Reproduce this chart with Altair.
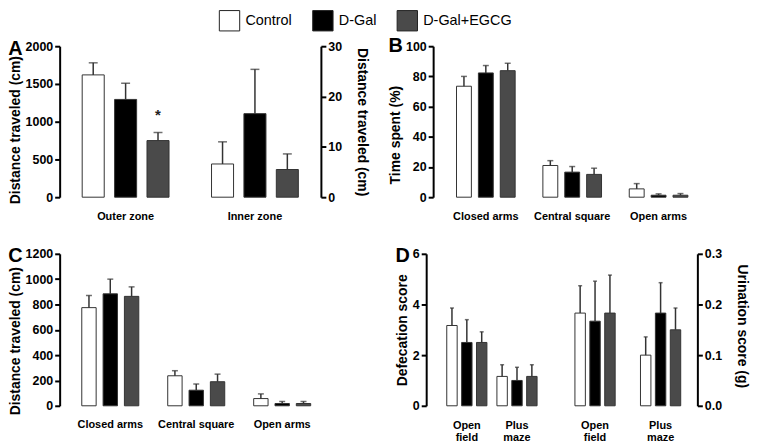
import altair as alt
import pandas as pd

FONT = "Liberation Sans"
groups = ["Control", "D-Gal", "D-Gal+EGCG"]
fills = ["#ffffff", "#000000", "#4a4a4a"]

# Panel A (open field: outer zone on left axis, inner zone on right axis)
a_outer_cat = ["Outer zone"]
a_outer_mean = [[1620, 1295, 750]]
a_outer_top = [[1780, 1510, 857]]
a_inner_cat = ["Inner zone"]
a_inner_mean = [[6.6, 16.6, 5.5]]
a_inner_top = [[11.0, 25.4, 8.6]]
a_star_cat = ["Outer zone"]
a_star_group = ["D-Gal+EGCG"]
a_star_value = [1085]

# Panel B (time spent, %)
b_cats = ["Closed arms", "Central square", "Open arms"]
b_mean = [[73.5, 82.3, 83.8], [21.0, 16.6, 15.1], [5.5, 1.3, 1.3]]
b_top = [[80.0, 87.2, 88.7], [24.2, 20.3, 19.2], [9.0, 2.2, 2.4]]

# Panel C (distance traveled, cm)
c_cats = ["Closed arms", "Central square", "Open arms"]
c_mean = [[775, 884, 864], [237, 123, 190], [57, 18, 18]]
c_top = [[871, 1000, 939], [277, 172, 250], [94, 34, 34]]

# Panel D (defecation on left axis, urination on right axis)
d_def_cats = ["Open field (defecation)", "Plus maze (defecation)"]
d_def_mean = [[3.17, 2.5, 2.5], [1.16, 1.0, 1.16]]
d_def_top = [[3.86, 3.40, 2.92], [1.62, 1.52, 1.62]]
d_uri_cats = ["Open field (urination)", "Plus maze (urination)"]
d_uri_mean = [[0.183, 0.167, 0.183], [0.100, 0.183, 0.150]]
d_uri_top = [[0.237, 0.246, 0.258], [0.136, 0.243, 0.193]]
d_spacers_right = ["_r1", "_r2", "_r3"]
d_spacers_left = ["_l1", "_l2"]


def to_df(cats, means, tops):
    rows = []
    for c, ms, ts in zip(cats, means, tops):
        for g, m, t in zip(groups, ms, ts):
            rows.append({"cat": c, "group": g, "mean": m, "top": t})
    return pd.DataFrame(rows)


legend = alt.Legend(
    title=None, orient="none", legendX=160, legendY=-37, direction="horizontal",
    symbolType="square", symbolSize=420, symbolStrokeColor="#222",
    symbolStrokeWidth=1, labelFontSize=14.5, labelFont=FONT,
    labelFontWeight="normal", labelColor="black", columnPadding=18,
    labelOffset=5,
)
color_scale = alt.Scale(domain=groups, range=fills)


def bar_layer(df, xs, offs, ys, yaxis, xaxis, cap, extra=None):
    base = alt.Chart(df).encode(
        x=alt.X("cat:N", scale=xs, axis=xaxis, title=None),
        xOffset=alt.XOffset("group:N", scale=offs, sort=groups),
    )
    bars = base.mark_bar(stroke="#333", strokeWidth=1).encode(
        y=alt.Y("mean:Q", scale=ys, axis=yaxis),
        fill=alt.Fill("group:N", scale=color_scale, legend=legend, sort=groups),
    )
    rules = base.mark_rule(color="#333", strokeWidth=1.5).encode(
        y=alt.Y("mean:Q", scale=ys, axis=yaxis), y2="top:Q"
    )
    caps = base.mark_tick(color="#333", thickness=1.5, size=cap).encode(
        y=alt.Y("top:Q", scale=ys, axis=yaxis)
    )
    layers = [bars, rules, caps]
    if extra is not None:
        layers.append(extra(xs, offs, ys, yaxis, xaxis))
    return alt.layer(*layers)


def panel_title(letter, offset):
    return alt.TitleParams(text=letter, anchor="start", frame="bounds", fontSize=20,
                           fontWeight="bold", font=FONT, color="black", offset=offset)


H1 = 152
H2 = 153

# ---------- Panel A ----------
xa = alt.Scale(domain=["Outer zone", "Inner zone"], paddingInner=0.26, paddingOuter=0.14)
offa = alt.Scale(paddingInner=0.32, paddingOuter=0.137)
xaxis_a = alt.Axis(title=None)
ya_left = alt.Scale(domain=[0, 2000], nice=False)
ya_right = alt.Scale(domain=[0, 30], nice=False)
yaxis_a_left = alt.Axis(title="Distance traveled (cm)", values=[0, 500, 1000, 1500, 2000],
                        format="d", orient="left", titleY=H1 / 2 + 8)
yaxis_a_right = alt.Axis(title="Distance traveled (cm)", values=[0, 10, 20, 30], format="d",
                         orient="right", titlePadding=13)

star_df = pd.DataFrame({"cat": a_star_cat, "group": a_star_group, "v": a_star_value})


def star_layer(xs, offs, ys, yaxis, xaxis):
    return alt.Chart(star_df).mark_text(text="*", fontSize=15, fontWeight="bold",
                                        font=FONT, baseline="middle", color="#222").encode(
        x=alt.X("cat:N", scale=xs, axis=xaxis, title=None),
        xOffset=alt.XOffset("group:N", scale=offs, sort=groups),
        y=alt.Y("v:Q", scale=ys, axis=yaxis),
    )


A = alt.layer(
    bar_layer(to_df(a_outer_cat, a_outer_mean, a_outer_top), xa, offa, ya_left, yaxis_a_left, xaxis_a, 9, star_layer),
    bar_layer(to_df(a_inner_cat, a_inner_mean, a_inner_top), xa, offa, ya_right, yaxis_a_right, xaxis_a, 9),
).resolve_scale(y="independent").properties(width=263, height=H1, title=panel_title("A", -19))

# ---------- Panel B ----------
xb = alt.Scale(domain=b_cats, paddingInner=0.24, paddingOuter=0.23)
offb = alt.Scale(paddingInner=0.32, paddingOuter=0.16)
B = bar_layer(
    to_df(b_cats, b_mean, b_top), xb, offb,
    alt.Scale(domain=[0, 100], nice=False),
    alt.Axis(title="Time spent (%)", values=[0, 20, 40, 60, 80, 100], titleY=H1 / 2 + 13),
    alt.Axis(title=None), 6,
).properties(width=280, height=H1, title=panel_title("B", -16))

# ---------- Panel C ----------
xc = alt.Scale(domain=c_cats, paddingInner=0.25, paddingOuter=0.214)
offc = alt.Scale(paddingInner=0.326, paddingOuter=0.175)
C = bar_layer(
    to_df(c_cats, c_mean, c_top), xc, offc,
    alt.Scale(domain=[0, 1200], nice=False),
    alt.Axis(title="Distance traveled (cm)", values=[0, 200, 400, 600, 800, 1000, 1200],
             format="d", titleY=H2 / 2 + 11),
    alt.Axis(title=None), 6,
).properties(width=275, height=H2, title=panel_title("C", -18))

# ---------- Panel D ----------
label_expr = ("indexof(datum.value, 'Open') == 0 ? ['Open', 'field'] : "
              "indexof(datum.value, 'Plus') == 0 ? ['Plus', 'maze'] : ''")
xd_def = alt.Scale(domain=d_def_cats + d_spacers_right, paddingInner=0.13, paddingOuter=0.268, align=0.70)
xd_uri = alt.Scale(domain=d_spacers_left + d_uri_cats, paddingInner=0.333, paddingOuter=0.235, align=0.516)
offd = alt.Scale(paddingInner=0.3, paddingOuter=0.117)
xaxis_d = alt.Axis(title=None, labelExpr=label_expr, labelLineHeight=12, labelPadding=14, orient="bottom")
D = alt.layer(
    bar_layer(to_df(d_def_cats, d_def_mean, d_def_top), xd_def, offd,
              alt.Scale(domain=[0, 6], nice=False),
              alt.Axis(title="Defecation score", values=[0, 2, 4, 6], orient="left"),
              xaxis_d, 4),
    bar_layer(to_df(d_uri_cats, d_uri_mean, d_uri_top), xd_uri, offd,
              alt.Scale(domain=[0, 0.3], nice=False),
              alt.Axis(title="Urination score (g)", values=[0, 0.1, 0.2, 0.3], format=".1f",
                       orient="right", titleY=H2 / 2 - 4, titlePadding=13),
              xaxis_d, 4),
).resolve_scale(x="independent", y="independent", xOffset="independent").properties(
    width=273, height=H2, title=panel_title("D", -18))

row1 = alt.hconcat(A, B, spacing=20).resolve_scale(xOffset="independent")
row2 = alt.hconcat(C, D, spacing=63).resolve_scale(xOffset="independent")

chart = alt.vconcat(row1, row2, spacing=25).resolve_scale(xOffset="independent").properties(
    padding={"left": 0, "top": 0, "right": 3, "bottom": 0}
).configure(font=FONT).configure_view(stroke=None).configure_axis(
    labelFont=FONT, titleFont=FONT, labelFontWeight="bold", titleFontWeight="bold",
    labelColor="black", titleColor="black", domainColor="black", tickColor="black", grid=False,
).configure_axisY(
    domainWidth=2, tickWidth=2, tickSize=5, labelFontSize=12.5, titleFontSize=14,
    labelPadding=2, titlePadding=3,
).configure_axisX(
    domain=False, ticks=False, labelFontSize=11, labelPadding=13, labelAngle=0,
)

chart.save("out.html", embed_options={"renderer": "svg", "actions": False})
